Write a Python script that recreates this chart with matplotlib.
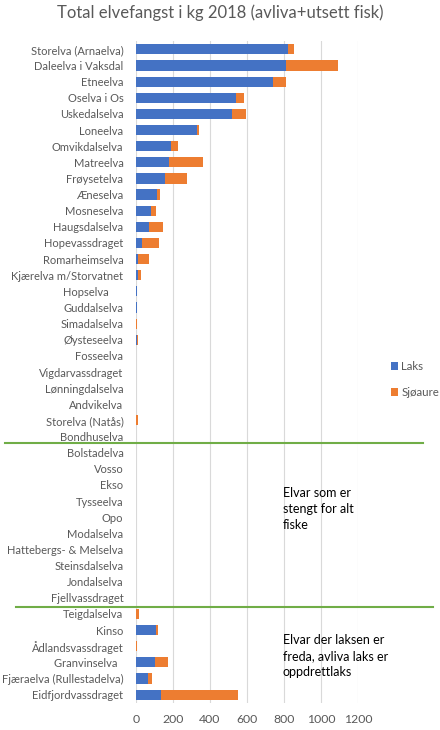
import matplotlib
matplotlib.use("Agg")
import matplotlib.pyplot as plt
import matplotlib.transforms as mtransforms
from matplotlib.lines import Line2D
import numpy as np

plt.rcParams['font.family'] = ['Lato', 'DejaVu Sans']

rivers = [
    "Storelva (Arnaelva)", "Daleelva i Vaksdal", "Etneelva", "Oselva i Os",
    "Uskedalselva", "Loneelva", "Omvikdalselva", "Matreelva", "Frøysetelva",
    "Æneselva", "Mosneselva", "Haugsdalselva", "Hopevassdraget",
    "Romarheimselva", "Kjærelva m/Storvatnet", "Hopselva     ", "Guddalselva",
    "Simadalselva", "Øysteseelva", "Fosseelva", "Vigdarvassdraget",
    "Lønningdalselva", "Andvikelva", "Storelva (Natås)", "Bondhuselva",
    "Bolstadelva", "Vosso", "Ekso", "Tysseelva", "Opo", "Modalselva",
    "Hattebergs- & Melselva", "Steinsdalselva", "Jondalselva", "Fjellvassdraget",
    "Teigdalselva", "Kinso", "Ådlandsvassdraget", "Granvinselva  ",
    "Fjæraelva (Rullestadelva)", "Eidfjordvassdraget",
]
laks = [821, 810, 740, 540, 518, 329, 189, 178, 157,
        113, 81, 70, 32, 11, 11, 3, 3,
        0, 4, 0, 0, 0, 0, 0, 0,
        0, 0, 0, 0, 0, 0, 0, 0, 0, 0,
        0, 108, 0, 103, 65, 135]
sjoaure = [32, 281, 70, 43, 76, 11, 38, 184, 118,
           17, 27, 76, 92, 59, 16, 5, 0,
           5, 5, 0, 0, 0, 0, 11, 0,
           0, 0, 0, 0, 0, 0, 0, 0, 0, 0,
           16, 11, 5, 70, 21, 416]
# index of the last river above each separator line
group_ends = [24, 34]
ticks = [0, 200, 400, 600, 800, 1000, 1200]

blue = "#4472C4"
orange = "#ED7D31"
green = "#70AD47"
grey_text = "#595959"

fig = plt.figure(figsize=(4.4, 7.3), dpi=100)
ax = fig.add_axes([0.309, 0.0374, 0.505, 0.906])

y = np.arange(len(rivers))
ax.barh(y, laks, height=0.63, color=blue, label="Laks", zorder=3)
ax.barh(y, sjoaure, left=laks, height=0.63, color=orange, label="Sjøaure", zorder=3)

ax.set_ylim(len(rivers) - 0.5, -0.5)
ax.set_xlim(0, 1200)
ax.set_xticks(ticks)
ax.set_yticks(y)
ax.set_yticklabels(rivers)
ax.tick_params(axis='both', length=0, colors=grey_text, labelsize=8)
ax.tick_params(axis='x', pad=8, labelsize=8.8)
ax.tick_params(axis='y', pad=9)
ax.grid(axis='x', color="#D9D9D9", linewidth=0.8, zorder=0)
for s in ax.spines.values():
    s.set_visible(False)

# separator lines between groups of rivers
trans = mtransforms.blended_transform_factory(fig.transFigure, ax.transData)
for gi, (x0, x1), dy in zip(group_ends, [(0.012, 0.962), (0.036, 0.984)], [0.42, 0.55]):
    ax.add_line(Line2D([x0, x1], [gi + dy, gi + dy], transform=trans,
                       color=green, linewidth=1.5, clip_on=False, zorder=4))

fig.text(0.643, 0.333, "Elvar som er\nstengt for alt\nfiske", fontsize=9,
         color="black", va='top', linespacing=1.4)
fig.text(0.643, 0.131, "Elvar der laksen er\nfreda, avliva laks er\noppdrettlaks",
         fontsize=9, color="black", va='top', linespacing=1.4)

fig.legend(loc='center left', bbox_to_anchor=(0.865, 0.48), frameon=False,
           fontsize=8.3, labelcolor=grey_text, handlelength=0.6, handleheight=0.6,
           handletextpad=0.3, labelspacing=1.3)

fig.text(0.5, 0.982, "Total elvefangst i kg 2018 (avliva+utsett fisk)",
         ha='center', va='center', fontsize=12, color=grey_text)

fig.savefig("out.png", dpi=100)
